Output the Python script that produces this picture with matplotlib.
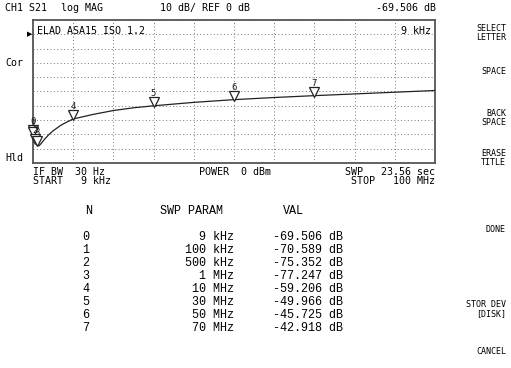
import matplotlib
matplotlib.use("Agg")
import matplotlib.pyplot as plt
import matplotlib.transforms as mtransforms

W, H = 511, 368

# trace (MHz, dB)
trace_mhz = [0.009, 0.1, 0.5, 1.0, 1.5, 2, 3, 4, 5, 6, 7, 8, 10, 15, 20, 25,
             30, 40, 50, 60, 70, 80, 90, 100]
trace_db = [-69.5, -70.6, -75.4, -77.2, -78.0, -76.5, -73.0, -70.0, -67.5,
            -65.5, -63.5, -62.0, -59.2, -56.0, -53.3, -51.4, -50.0, -47.6,
            -45.7, -44.2, -42.9, -41.7, -40.5, -39.3]

# marker table
mk_n = [0, 1, 2, 3, 4, 5, 6, 7]
mk_mhz = [0.009, 0.1, 0.5, 1, 10, 30, 50, 70]
mk_param = ["9 kHz", "100 kHz", "500 kHz", "1 MHz", "10 MHz", "30 MHz",
            "50 MHz", "70 MHz"]
mk_val = [-69.506, -70.589, -75.352, -77.247, -59.206, -49.966, -45.725,
          -42.918]

softkeys = [("SELECT\nLETTER", 33), ("SPACE", 71), ("BACK\nSPACE", 118),
            ("ERASE\nTITLE", 158), ("DONE", 229), ("STOR DEV\n[DISK]", 309),
            ("CANCEL", 352)]

fig = plt.figure(figsize=(W / 100, H / 100), dpi=100)
fig.patch.set_facecolor("white")

x0, x1, y0, y1 = 33, 435, 20, 163
ax = fig.add_axes([x0 / W, 1 - y1 / H, (x1 - x0) / W, (y1 - y0) / H])
ax.set_xlim(0.009, 100)
ax.set_ylim(-90, 10)
ax.set_xticks([0.009 + i * (100 - 0.009) / 10 for i in range(11)])
ax.set_yticks(range(-90, 11, 10))
ax.tick_params(length=0, labelbottom=False, labelleft=False)
ax.grid(True, color="#777777", linestyle=(0, (1, 2.5)), linewidth=0.7)
for s in ax.spines.values():
    s.set_color("#555555")
    s.set_linewidth(1.3)

scr = dict(family="DejaVu Sans Mono", fontsize=7.2)

ax.plot(trace_mhz, trace_db, color="#222222", lw=0.9, zorder=3)

# open triangles sitting on the trace, numbers above (hidden under the
# later triangles where they pile up, like on the screen)
tri = mtransforms.offset_copy(ax.transData, fig=fig, x=0, y=3.5, units="dots")
for n, f, v in zip(mk_n, mk_mhz, mk_val):
    ax.plot([f], [v], transform=tri, ls="none", marker="v", ms=7,
            mfc="white", mec="#222222", mew=0.9, clip_on=False,
            zorder=4 + 2 * n)
    ax.annotate(str(n), (f, v), xytext=(0, 12), textcoords="offset pixels",
                ha="center", va="center", family="DejaVu Sans Mono",
                fontsize=6.5, color="#222222", annotation_clip=False,
                zorder=3 + 2 * n)

ax.text(0.01, 0.925, "ELAD ASA15 ISO 1.2", transform=ax.transAxes,
        va="center", ha="left", **scr)
ax.text(0.99, 0.925, "9 kHz", transform=ax.transAxes,
        va="center", ha="right", **scr)


def t(x, y, s, **kw):
    kw.setdefault("va", "center")
    fig.text(x / W, 1 - y / H, s, **kw)


t(5, 8, "CH1 S21", **scr)
t(61, 8, "log MAG", **scr)
t(160, 8, "10 dB/ REF 0 dB", **scr)
t(436, 8, "-69.506 dB", ha="right", **scr)
fig.text(x0 / W - 0.002, 1 - 34.3 / H, "\u25B6", fontsize=5, va="center",
         ha="right")
t(5, 63, "Cor", **scr)
t(5, 158, "Hld", **scr)

t(33, 172, "IF BW  30 Hz", **scr)
t(33, 181, "START   9 kHz", **scr)
t(199, 172, "POWER  0 dBm", **scr)
t(435, 172, "SWP   23.56 sec", ha="right", **scr)
t(435, 181, "STOP   100 MHz", ha="right", **scr)

for label, y in softkeys:
    t(506, y, label, ha="right", family="DejaVu Sans Mono", fontsize=6,
      linespacing=0.95)

# marker listing
mono = dict(family="Liberation Mono", fontsize=8.5)
t(85, 211, "N", **mono)
t(160, 211, "SWP PARAM", **mono)
t(283, 211, "VAL", **mono)
for i, (n, p, v) in enumerate(zip(mk_n, mk_param, mk_val)):
    y = 237 + i * 13
    t(82, y, str(n), **mono)
    t(234, y, p, ha="right", **mono)
    t(343, y, "%.3f dB" % v, ha="right", **mono)

fig.savefig("out.png", dpi=100)
